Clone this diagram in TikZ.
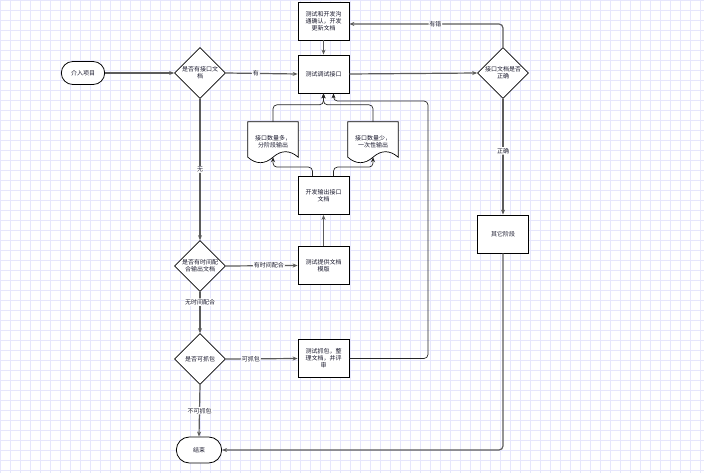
\documentclass[tikz,border=0pt]{standalone}
\usepackage{fontspec}
\setmainfont{Noto Sans CJK SC}
\usepackage{tikz}
\usetikzlibrary{arrows.meta,positioning,shapes.geometric,shapes.misc,calc}
\definecolor{gridblue}{RGB}{230,230,252}
\definecolor{flowline}{HTML}{5C5C5C}
\definecolor{flowtext}{HTML}{1A1A2E}

\newcommand{\drawdoc}[1]{%
  \draw[docline] (#1.north west) -- (#1.north east) -- ([yshift=6pt]#1.south east)
    .. controls ([shift={(-8.33pt,13.3pt)}]#1.south east) and ([shift={(8.33pt,13.3pt)}]#1.south) .. ([yshift=6pt]#1.south)
    .. controls ([shift={(-8.33pt,-1.3pt)}]#1.south) and ([shift={(8.33pt,-1.3pt)}]#1.south west) .. ([yshift=6pt]#1.south west) -- cycle;
  \coordinate (#1bot) at ([yshift=6pt]#1.south);
  \node[align=center] at ([yshift=1pt]#1) {\csname doctext#1\endcsname};
}
\newcommand{\doctextmany}{接口数量多，\\分阶段输出}
\newcommand{\doctextfew}{接口数量少，\\一次性输出}

\begin{document}
\begin{tikzpicture}[x=1pt,y=1pt,
  >={Stealth[length=5pt,width=4pt]},
  every node/.style={font=\fontsize{6}{7}\selectfont,text=flowtext},
  proc/.style={draw,line width=0.8pt,fill=white,minimum width=51pt,minimum height=38pt,inner sep=1pt,align=center},
  decide/.style={diamond,draw,line width=0.7pt,fill=white,minimum width=51pt,minimum height=51pt,inner sep=0pt,aspect=1},
  term/.style={rounded rectangle,draw,line width=0.8pt,fill=white,minimum width=50pt,minimum height=23pt},
  docbox/.style={minimum width=50pt,minimum height=41pt,inner sep=0pt},
  flow/.style={->,draw=flowline,line width=1.2pt,rounded corners=4pt},
  slim/.style={->,draw=black!85,line width=0.7pt,rounded corners=4pt},
  docline/.style={draw=black,line width=0.7pt,fill=white},
  lbl/.style={fill=white,inner sep=1pt}]

  \useasboundingbox (0,0) rectangle (704,-473);
  \fill[white] (0,0) rectangle (704,-473);
  \draw[gridblue,line width=0.5pt,step=10pt] (0,-473) grid (704,0);

  \node[term] (start) at (83,-73) {介入项目};
  \node[decide,label={[align=center]center:{是否有接口文\\档}}] (hasdoc) at (200,-73) {};
  \node[proc] (debug) at (323.5,-74) {测试调试接口};
  \node[proc] (confirm) at (323.5,-21) {测试和开发沟\\通确认，开发\\更新文档};
  \node[decide,label={[align=center]center:{接口文档是否\\正确}}] (checkdoc) at (503,-73) {};
  \node[proc] (other) at (503,-234) {其它阶段};
  \node[decide,label={[align=center]center:{是否有时间配\\合输出文档}}] (timed) at (200,-266) {};
  \node[proc] (tmpl) at (323.5,-265.5) {测试提供文档\\模版};
  \node[proc] (devout) at (323.5,-195.5) {开发输出接口\\文档};
  \node[docbox] (many) at (273,-142.5) {};
  \node[docbox] (few) at (373,-142.5) {};
  \node[decide,label={center:是否可抓包}] (canpkt) at (200,-359) {};
  \node[proc] (sniff) at (323.5,-358.5) {测试抓包，整\\理文档，并评\\审};
  \node[term,minimum width=52pt,minimum height=26pt] (finish) at (199,-450) {结束};

  \drawdoc{many}
  \drawdoc{few}

  \coordinate (loop) at (428,-101);

  \draw[flow] (start.east) -- (hasdoc.west);
  \draw[flow] (hasdoc.east) -- node[lbl,pos=0.42]{有} (debug.west);
  \draw[flow] (confirm.south) -- (debug.north);
  \draw[flow] (debug.east) -- (checkdoc.west);
  \draw[flow] (checkdoc.north) |- node[lbl,pos=0.72]{有错} ([yshift=-3pt]confirm.east);
  \draw[flow] (checkdoc.south) -- node[lbl,pos=0.45]{正确} (other.north);
  \draw[flow] (other.south) |- (finish.east);
  \draw[flow] (hasdoc.south) -- node[lbl]{无} (timed.north);
  \draw[flow] (timed.east) -- node[lbl,pos=0.6]{有时间配合} (tmpl.west);
  \draw[flow] (tmpl.north) -- (devout.south);
  \draw[flow] (timed.south) -- node[lbl,pos=0.25]{无时间配合} (canpkt.north);
  \draw[flow] (canpkt.east) -- node[lbl,pos=0.35]{可抓包} (sniff.west);
  \draw[flow] (canpkt.south) -- node[lbl]{不可抓包} (finish.north);

  \draw[slim] ([xshift=-11pt]devout.north) -- ++(0,9) -| (manybot);
  \draw[slim] ([xshift=10pt]devout.north) -- ++(0,9) -| (fewbot);
  \draw[slim] (many.north) -- ++(0,17) -| (debug.south);
  \draw[slim] (few.north) -- ++(0,17) -| (debug.south);
  \draw[slim] (sniff.east) -| (loop) -| ([xshift=10pt]debug.south);
\end{tikzpicture}
\end{document}
